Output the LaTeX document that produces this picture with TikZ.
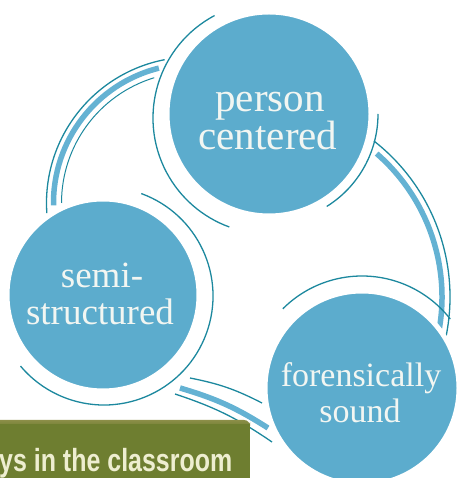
\documentclass[tikz,border=0pt]{standalone}
\usepackage{fontspec}
\usepackage{tikz}
\usetikzlibrary{calc}
\setmainfont{Liberation Serif}
\newfontfamily\bannerfont[FakeStretch=0.78]{Liberation Sans}
\definecolor{bubblefill}{RGB}{92,172,205}
\definecolor{swooshblue}{RGB}{100,178,211}
\definecolor{ringteal}{RGB}{28,136,158}
\definecolor{bannergreen}{RGB}{110,126,48}
\definecolor{bannertop}{RGB}{140,142,72}
\definecolor{bannertext}{RGB}{238,238,208}
\definecolor{bubbletext}{RGB}{242,246,242}
\tikzstyle{bubble} = [circle, fill=bubblefill, draw=white, line width=5pt, inner sep=0pt]
\tikzstyle{word} = [anchor=base, inner sep=0pt, text=bubbletext]
\tikzstyle{ring} = [draw=ringteal, line width=1.3pt]
\tikzstyle{band} = [draw=swooshblue, line width=5.5pt]

\begin{document}
\begin{tikzpicture}[x=1pt, y=1pt]
    \useasboundingbox (0,0) rectangle (456,478);% the page
    % centres of the big swooshes
    \coordinate (leftarc) at (192.5,275);
    \coordinate (rightarc) at (252,181);
    % left swoosh, from person centered down to semi-structured
    \draw[ring] ($(leftarc)+(101:146)$) arc[start angle=101, end angle=184, radius=146];% outer line
    \draw[band] ($(leftarc)+(104:139)$) arc[start angle=104, end angle=181, radius=139];% light band
    \draw[ring, line width=1pt] ($(leftarc)+(107:131)$) arc[start angle=107, end angle=180, radius=131];% inner line
    % right swoosh, from person centered down to forensically sound
    \draw[ring] ($(rightarc)+(52:198)$) arc[start angle=52, end angle=-12, radius=198];% outer line
    \draw[band] ($(rightarc)+(49:190)$) arc[start angle=49, end angle=-10, radius=190];% light band
    % bottom swoosh, from semi-structured over to forensically sound
    \coordinate (b1) at (190,100);
    \coordinate (b2) at (262,75);
    \coordinate (b3) at (180,90);
    \coordinate (b4) at (268,50);
    \coordinate (b5) at (175,84);
    \coordinate (b6) at (272,36);
    \draw[ring] (b1) to[bend left=8] (b2);% upper line
    \draw[band] (b3) to[bend left=8] (b4);% light band
    \draw[ring] (b5) to[bend left=8] (b6);% lower line
    % thin rings round the bubbles
    \draw[ring] ($(269,360)+(118:116)$) arc[start angle=118, end angle=250, radius=116];% person, left
    \draw[ring] ($(269,364)+(0:109)$) arc[start angle=0, end angle=-58, radius=109];% person, right
    \draw[ring] ($(104,182)+(70:109)$) arc[start angle=70, end angle=-140, radius=109];% semi-structured
    \draw[ring] ($(362,90)+(38:112)$) arc[start angle=38, end angle=135, radius=112];% forensically sound
    % the bubbles
    \node[bubble, minimum size=204pt] (person) at (269,364) {};
    \node[bubble, minimum size=192pt] (semi) at (103,183) {};
    \node[bubble, minimum size=194pt] (forensic) at (362,90) {};
    % their words
    \node[word, font=\fontsize{41}{41}\selectfont] (person1) at (270,366) {person};
    \node[word, font=\fontsize{41}{41}\selectfont] (person2) at (268,328) {centered};
    \node[word, font=\fontsize{37}{37}\selectfont] (semi1) at (102,190) {semi-};
    \node[word, font=\fontsize{37}{37}\selectfont] (semi2) at (100,153) {structured};
    \node[word, font=\fontsize{34}{34}\selectfont] (forensic1) at (361,91) {forensically};
    \node[word, font=\fontsize{34}{34}\selectfont] (forensic2) at (360,55) {sound};
    % banner at the bottom
    \shade[top color=bannertop, bottom color=bannergreen, rounded corners=6pt]
        (-10,50) rectangle (250,58);
    \fill[bannergreen] (-10,-10) rectangle (250,54);
    \node[anchor=base west, inner sep=0pt, text=bannertext,
        font=\bannerfont\bfseries\fontsize{32}{32}\selectfont]
        (caption) at (-1,6) {ys in the classroom};
\end{tikzpicture}
\end{document}
